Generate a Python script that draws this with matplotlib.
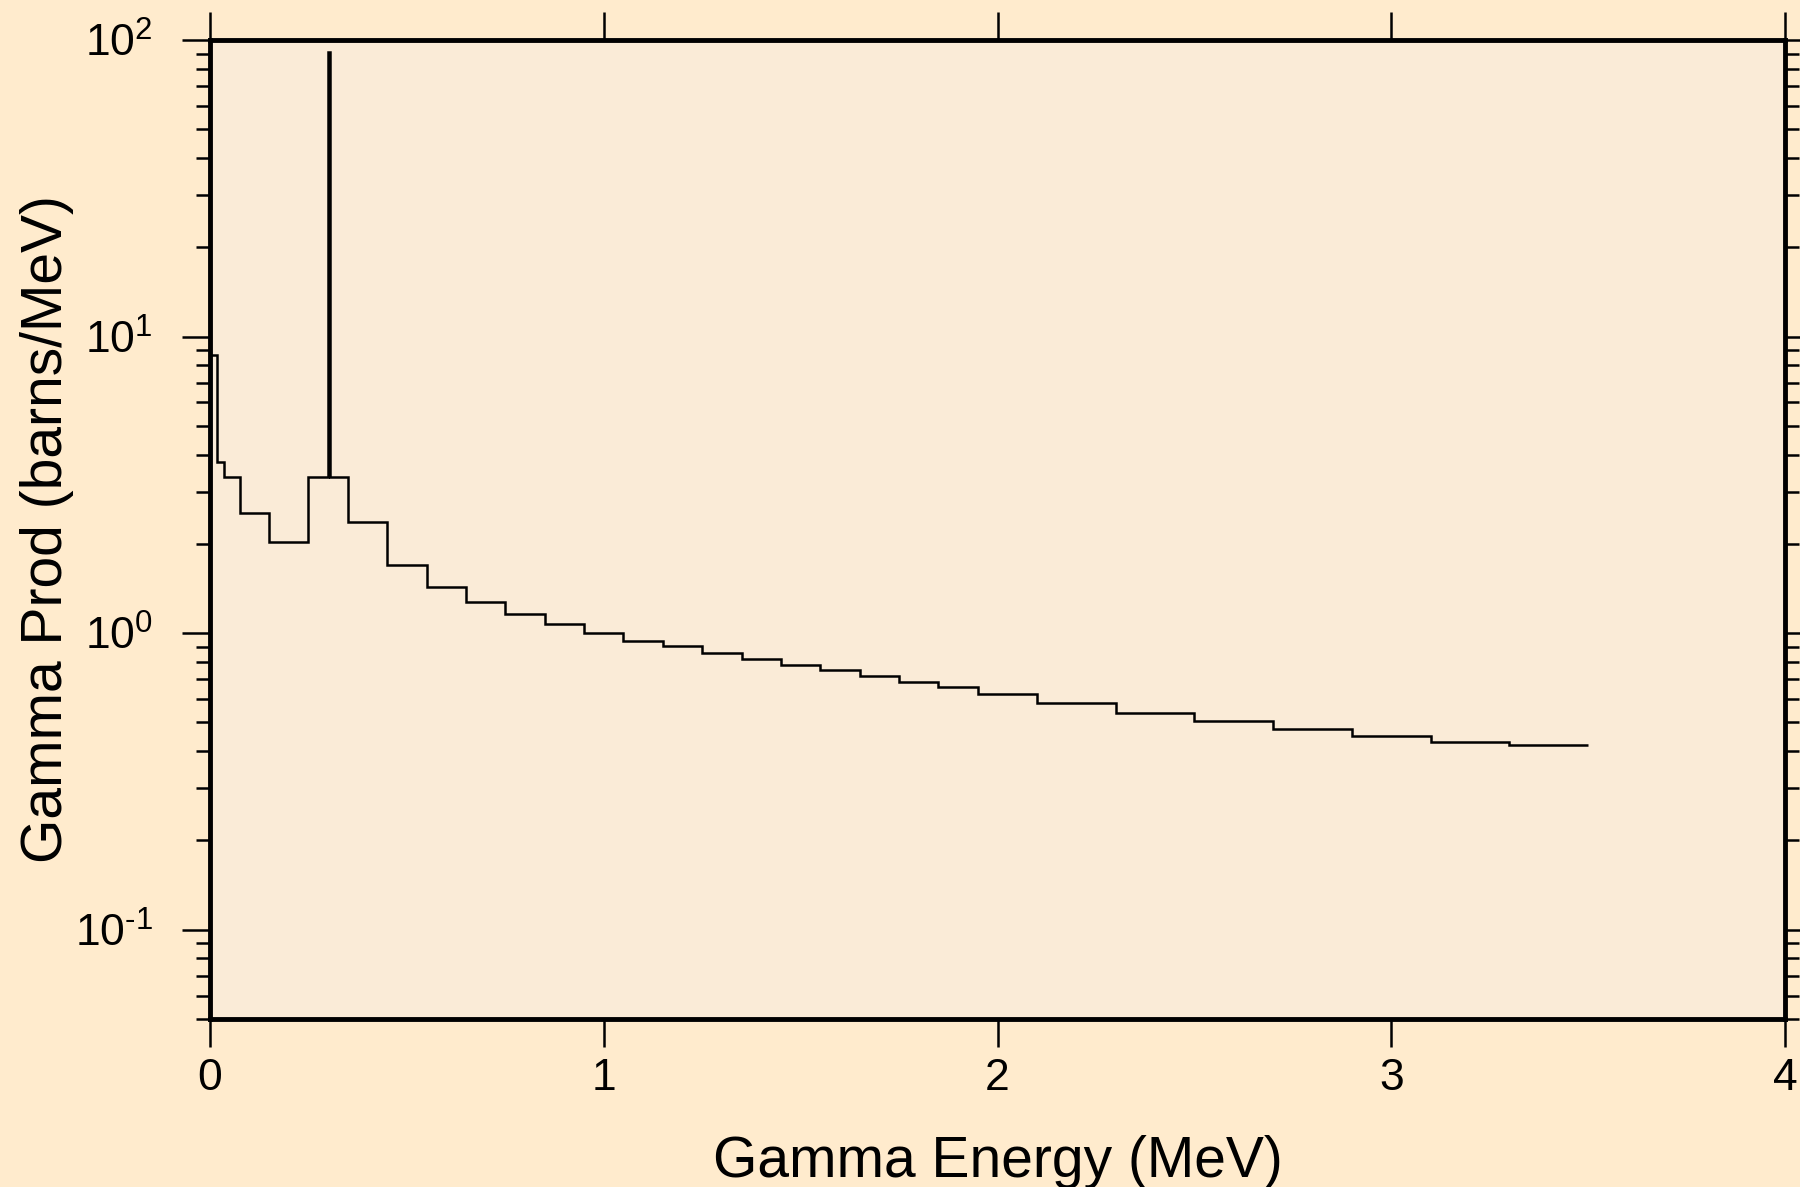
import matplotlib
matplotlib.use("Agg")
import matplotlib.pyplot as plt
import numpy as np
from matplotlib.ticker import LogLocator, FuncFormatter, NullFormatter, MultipleLocator

plt.rcParams['font.family'] = ['Liberation Sans', 'DejaVu Sans']
plt.rcParams['mathtext.fontset'] = 'custom'
plt.rcParams['mathtext.rm'] = 'Liberation Sans'
plt.rcParams['mathtext.it'] = 'Liberation Sans'

# bin edges (MeV) and gamma production values (barns/MeV)
edges = [0.0, 0.018, 0.035, 0.075, 0.15, 0.25, 0.3005, 0.3035, 0.35,
         0.45, 0.55, 0.65, 0.75, 0.85, 0.95, 1.05, 1.15, 1.25, 1.35,
         1.45, 1.55, 1.65, 1.75, 1.85, 1.95, 2.1, 2.3, 2.5, 2.7, 2.9,
         3.1, 3.3, 3.5]
values = [8.66, 3.78, 3.355, 2.54, 2.03, 3.355, 91.0, 3.355,
          2.37, 1.695, 1.433, 1.272, 1.156, 1.07, 1.003, 0.94, 0.902,
          0.859, 0.815, 0.78, 0.749, 0.718, 0.687, 0.66, 0.623, 0.583,
          0.539, 0.504, 0.475, 0.451, 0.43, 0.418]


def pow10(v, pos):
    e = int(round(np.log10(v)))
    return r'$10^{\text{%d}}$' % e


fig = plt.figure(figsize=(18, 11.87), dpi=100, facecolor='#FFEBCD')
ax = fig.add_axes([210/1800, 1 - 1019/1187, 1575/1800, 979/1187])
ax.set_facecolor('#FAEBD7')

ax.stairs(values, edges, baseline=None, color='black', linewidth=1.8)

ax.set_yscale('log')
ax.set_xlim(0, 4)
ax.set_ylim(0.05, 100)

ax.xaxis.set_major_locator(MultipleLocator(1))
ax.yaxis.set_major_locator(LogLocator(base=10, numticks=10))
ax.yaxis.set_minor_locator(LogLocator(base=10, subs=np.arange(2, 10), numticks=20))
ax.yaxis.set_major_formatter(FuncFormatter(pow10))
ax.yaxis.set_minor_formatter(NullFormatter())

for s in ax.spines.values():
    s.set_linewidth(3.5)

ax.tick_params(which='major', direction='out', length=20, width=1.8,
               top=True, right=True, labelsize=32, color='black')
ax.tick_params(which='minor', direction='out', length=10, width=1.8,
               top=False, right=True)
ax.tick_params(axis='x', which='major', pad=8)
ax.tick_params(axis='y', which='major', pad=21)

ax.set_xlabel('Gamma Energy (MeV)', fontsize=41, labelpad=26)
ax.set_ylabel('Gamma Prod (barns/MeV)', fontsize=41, labelpad=1)

fig.savefig('out.png', dpi=100, facecolor=fig.get_facecolor())
